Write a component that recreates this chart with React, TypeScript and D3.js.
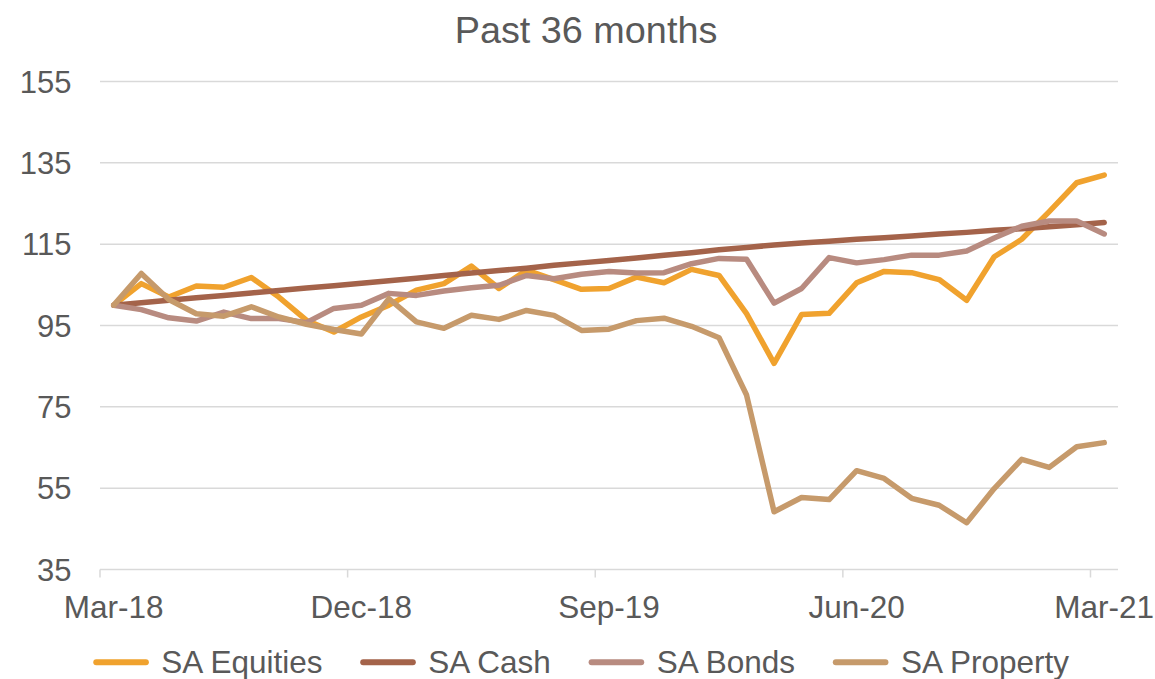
import React from "react";
import * as d3 from "d3";

const months: string[] = [
  "Mar-18","Apr-18","May-18","Jun-18","Jul-18","Aug-18","Sep-18","Oct-18","Nov-18","Dec-18",
  "Jan-19","Feb-19","Mar-19","Apr-19","May-19","Jun-19","Jul-19","Aug-19","Sep-19","Oct-19",
  "Nov-19","Dec-19","Jan-20","Feb-20","Mar-20","Apr-20","May-20","Jun-20","Jul-20","Aug-20",
  "Sep-20","Oct-20","Nov-20","Dec-20","Jan-21","Feb-21","Mar-21",
];

const saEquities: number[] = [
  100.0, 105.3, 102.0, 104.7, 104.4, 106.8, 102.0, 96.3, 93.4, 97.1,
  100.0, 103.7, 105.3, 109.6, 104.1, 108.6, 106.3, 103.9, 104.1, 106.9,
  105.5, 108.8, 107.3, 97.9, 85.7, 97.7, 98.0, 105.5, 108.3, 108.0,
  106.3, 101.2, 111.9, 116.2, 123.0, 130.1, 132.0,
];

const saCash: number[] = [
  100.0, 100.6, 101.2, 101.8, 102.4, 103.0, 103.6, 104.2, 104.8, 105.4,
  106.0, 106.6, 107.3, 107.9, 108.5, 109.1, 109.8, 110.4, 111.0, 111.6,
  112.3, 112.9, 113.6, 114.2, 114.8, 115.3, 115.7, 116.2, 116.6, 117.0,
  117.5, 117.9, 118.4, 118.8, 119.3, 119.8, 120.3,
];

const saBonds: number[] = [
  100.0, 98.9, 96.9, 96.1, 98.3, 96.7, 96.7, 95.7, 99.2, 100.0,
  102.9, 102.4, 103.5, 104.3, 104.9, 107.3, 106.5, 107.6, 108.3, 107.9,
  108.0, 110.2, 111.5, 111.3, 100.5, 104.1, 111.7, 110.4, 111.2, 112.3,
  112.3, 113.3, 116.5, 119.4, 120.7, 120.7, 117.5,
];

const saProperty: number[] = [
  100.0, 107.8, 101.4, 97.9, 97.3, 99.6, 97.1, 95.3, 94.0, 92.9,
  101.6, 95.9, 94.3, 97.5, 96.5, 98.7, 97.5, 93.8, 94.1, 96.2,
  96.8, 94.8, 92.0, 77.9, 49.2, 52.7, 52.2, 59.3, 57.4, 52.5,
  50.8, 46.5, 54.9, 62.1, 60.1, 65.2, 66.2,
];

const seriesNames: string[] = ["SA Equities", "SA Cash", "SA Bonds", "SA Property"];
const seriesColors: string[] = ["#F0A22E", "#A4634A", "#B88B80", "#C69A6B"];
const yTicks: number[] = [35, 55, 75, 95, 115, 135, 155];
const xTickEvery = 9;
const title = "Past 36 months";

const W = 1155;
const H = 679;
const FONT = "'Liberation Sans', Arial, sans-serif";
const TEXT = "#595959";
const GRID = "#D9D9D9";

function textWidth(s: string, size: number): number {
  try {
    const c = document.createElement("canvas").getContext("2d");
    if (c) {
      c.font = `${size}px 'Liberation Sans', Arial, sans-serif`;
      return c.measureText(s).width;
    }
  } catch (e) {}
  return s.length * size * 0.52;
}

export default function App() {
  const left = 100;
  const right = 1118;
  const top = 81.5;
  const bottom = 569.5;
  const n = months.length;

  const x = d3
    .scaleBand<number>()
    .domain(d3.range(n))
    .range([left, right])
    .paddingInner(0)
    .paddingOuter(0);
  const bw = x.bandwidth();
  const cx = (i: number) => (x(i) as number) + bw / 2;
  const y = d3.scaleLinear().domain([35, 155]).range([bottom, top]);

  const line = d3
    .line<number>()
    .x((_, i) => cx(i))
    .y((v) => y(v));

  const allSeries = [saEquities, saCash, saBonds, saProperty];

  const tickIdx = d3.range(0, n, xTickEvery);
  const boundaries = tickIdx.map((i) => x(i) as number);

  // legend layout
  const legendFont = 31.5;
  const symLen = 55.6;
  const symGap = 12.5;
  const itemGap = 36;
  const widths = seriesNames.map((s) => textWidth(s, legendFont));
  const total =
    widths.reduce((a, b) => a + b, 0) +
    seriesNames.length * (symLen + symGap) +
    (seriesNames.length - 1) * itemGap;
  let lx = 582 - total / 2;
  const legendItems = seriesNames.map((name, k) => {
    const item = { name, color: seriesColors[k], x: lx };
    lx += symLen + symGap + widths[k] + itemGap;
    return item;
  });
  const legendY = 662.3;

  return (
    <svg
      width={W}
      height={H}
      viewBox={`0 0 ${W} ${H}`}
      style={{ position: "absolute", left: 0, top: 0, background: "#fff" }}
      fontFamily={FONT}
    >
      <rect x={0} y={0} width={W} height={H} fill="#fff" />
      <text x={586} y={43.3} textAnchor="middle" fontSize={37.8} fill={TEXT}>
        {title}
      </text>

      {yTicks.map((t) => (
        <g key={t}>
          <line
            x1={left}
            x2={right}
            y1={y(t)}
            y2={y(t)}
            stroke={GRID}
            strokeWidth={1.5}
          />
          <text
            x={71.5}
            y={y(t) + 11}
            textAnchor="end"
            fontSize={31}
            fill={TEXT}
          >
            {t}
          </text>
        </g>
      ))}

      {boundaries.map((bx, k) => (
        <line
          key={k}
          x1={bx}
          x2={bx}
          y1={bottom}
          y2={bottom + 8}
          stroke={GRID}
          strokeWidth={1.5}
        />
      ))}

      {tickIdx.map((i) => (
        <text
          key={i}
          x={cx(i)}
          y={618.3}
          textAnchor="middle"
          fontSize={31.5}
          fill={TEXT}
        >
          {months[i]}
        </text>
      ))}

      {allSeries.map((s, k) => (
        <path
          key={k}
          d={line(s) || ""}
          fill="none"
          stroke={seriesColors[k]}
          strokeWidth={5.5}
          strokeLinejoin="round"
          strokeLinecap="round"
        />
      ))}

      {legendItems.map((it) => (
        <g key={it.name}>
          <line
            x1={it.x + 3}
            x2={it.x + symLen - 3}
            y1={legendY}
            y2={legendY}
            stroke={it.color}
            strokeWidth={6}
            strokeLinecap="round"
          />
          <text
            x={it.x + symLen + symGap}
            y={673}
            fontSize={legendFont}
            fill={TEXT}
          >
            {it.name}
          </text>
        </g>
      ))}
    </svg>
  );
}
